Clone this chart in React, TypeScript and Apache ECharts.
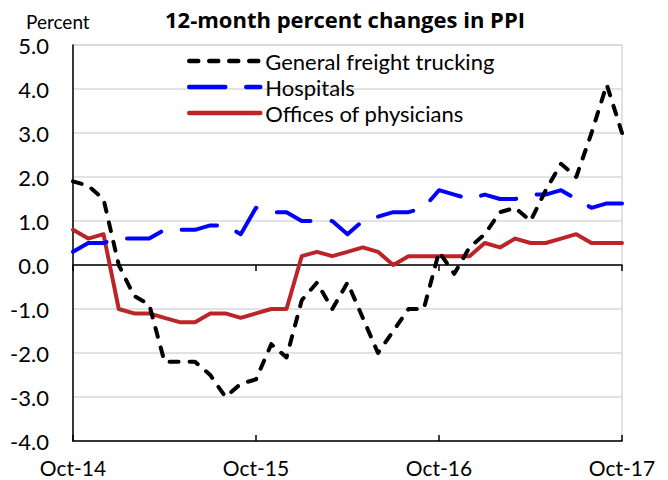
import React, { useEffect, useRef } from "react";
import * as echarts from "echarts";

const months = [
  "Oct-14", "Nov-14", "Dec-14", "Jan-15", "Feb-15", "Mar-15", "Apr-15", "May-15", "Jun-15", "Jul-15", "Aug-15", "Sep-15",
  "Oct-15", "Nov-15", "Dec-15", "Jan-16", "Feb-16", "Mar-16", "Apr-16", "May-16", "Jun-16", "Jul-16", "Aug-16", "Sep-16",
  "Oct-16", "Nov-16", "Dec-16", "Jan-17", "Feb-17", "Mar-17", "Apr-17", "May-17", "Jun-17", "Jul-17", "Aug-17", "Sep-17",
  "Oct-17",
];

const freightTrucking = [
  1.9, 1.8, 1.5, 0.0, -0.7, -0.9, -2.2, -2.2, -2.2, -2.5, -3.0, -2.7,
  -2.6, -1.8, -2.1, -0.8, -0.4, -1.0, -0.4, -1.2, -2.0, -1.5, -1.0, -1.0,
  0.3, -0.2, 0.4, 0.7, 1.2, 1.3, 1.0, 1.7, 2.3, 2.0, 3.0, 4.1,
  3.0,
];

const hospitals = [
  0.3, 0.5, 0.5, 0.6, 0.6, 0.6, 0.8, 0.8, 0.8, 0.9, 0.9, 0.7,
  1.3, 1.2, 1.2, 1.0, 1.0, 1.0, 0.7, 1.0, 1.1, 1.2, 1.2, 1.3,
  1.7, 1.6, 1.5, 1.6, 1.5, 1.5, 1.6, 1.6, 1.7, 1.5, 1.3, 1.4,
  1.4,
];

const physicians = [
  0.8, 0.6, 0.7, -1.0, -1.1, -1.1, -1.2, -1.3, -1.3, -1.1, -1.1, -1.2,
  -1.1, -1.0, -1.0, 0.2, 0.3, 0.2, 0.3, 0.4, 0.3, 0.0, 0.2, 0.2,
  0.2, 0.2, 0.2, 0.5, 0.4, 0.6, 0.5, 0.5, 0.6, 0.7, 0.5, 0.5,
  0.5,
];

const seriesNames = ["General freight trucking", "Hospitals", "Offices of physicians"];
const FONT = "Lato, 'Noto Sans', sans-serif";
const TITLE_FONT = "'Open Sans', 'Noto Sans', sans-serif";

export default function App() {
  const ref = useRef<HTMLDivElement>(null);

  useEffect(() => {
    if (!ref.current) return;
    const chart = echarts.init(ref.current, undefined, { renderer: "svg" });
    const baseX = {
      type: "category" as const,
      data: months,
      boundaryGap: false,
      splitLine: { show: false },
    };
    chart.setOption({
      animation: false,
      backgroundColor: "#ffffff",
      textStyle: { fontFamily: FONT },
      title: [
        {
          text: "12-month percent changes in PPI",
          left: 160,
          top: 3,
          textStyle: { fontFamily: TITLE_FONT, fontSize: 22, fontWeight: "bold", color: "#000" },
        },
        {
          text: "Percent",
          left: 21,
          top: 7,
          textStyle: { fontFamily: FONT, fontSize: 19, fontWeight: "normal", color: "#000" },
        },
      ],
      legend: {
        orient: "vertical",
        left: 187,
        top: 50,
        padding: 0,
        itemWidth: 71,
        itemHeight: 14,
        itemGap: 4,
        data: seriesNames,
        itemStyle: { opacity: 0 },
        lineStyle: { width: 4.5 },
        textStyle: { fontFamily: FONT, fontSize: 22, color: "#000" },
      },
      grid: {
        left: 73,
        right: 46,
        top: 45,
        bottom: 39,
        show: true,
        borderColor: "#d9d9d9",
        borderWidth: 1.5,
        backgroundColor: "transparent",
      },
      xAxis: [
        {
          ...baseX,
          position: "bottom",
          axisLine: { show: false, onZero: false },
          axisTick: { show: false },
          axisLabel: {
            interval: 11,
            fontSize: 21,
            lineHeight: 21,
            color: "#000",
            margin: 16,
            fontFamily: FONT,
          },
        },
        {
          ...baseX,
          position: "bottom",
          axisLine: { show: true, onZero: true, lineStyle: { color: "#000", width: 1.5 } },
          axisTick: { show: true, interval: 11, length: 6, inside: false, lineStyle: { color: "#000", width: 1.5 } },
          axisLabel: { show: false },
        },
        {
          ...baseX,
          position: "bottom",
          axisLine: { show: true, onZero: true, lineStyle: { color: "#000", width: 1.5 } },
          axisTick: { show: true, interval: 11, length: 6, inside: true, lineStyle: { color: "#000", width: 1.5 } },
          axisLabel: { show: false },
        },
      ],
      yAxis: {
        type: "value",
        min: -4,
        max: 5,
        interval: 1,
        axisLine: { show: true, lineStyle: { color: "#000", width: 1.5 } },
        axisTick: { show: false },
        axisLabel: {
          formatter: (v: number) => v.toFixed(1),
          fontSize: 22,
          color: "#000",
          margin: 24,
          fontFamily: FONT,
        },
        splitLine: { show: true, lineStyle: { color: "#d9d9d9", width: 1.5 } },
      },
      series: [
        {
          name: seriesNames[2],
          type: "line",
          data: physicians,
          symbol: "none",
          lineStyle: { color: "#BC2528", width: 4, type: "solid", cap: "round", join: "round" },
          itemStyle: { color: "#BC2528" },
        },
        {
          name: seriesNames[1],
          type: "line",
          data: hospitals,
          symbol: "none",
          lineStyle: { color: "#0000FF", width: 4, type: [36, 21], cap: "round", join: "round" },
          itemStyle: { color: "#0000FF" },
        },
        {
          name: seriesNames[0],
          type: "line",
          data: freightTrucking,
          symbol: "none",
          lineStyle: { color: "#000000", width: 4, type: [9, 11], cap: "round", join: "round" },
          itemStyle: { color: "#000000" },
        },
      ],
    });
    return () => chart.dispose();
  }, []);

  return <div ref={ref} style={{ width: 668, height: 480, position: "absolute", left: 0, top: 0 }} />;
}
